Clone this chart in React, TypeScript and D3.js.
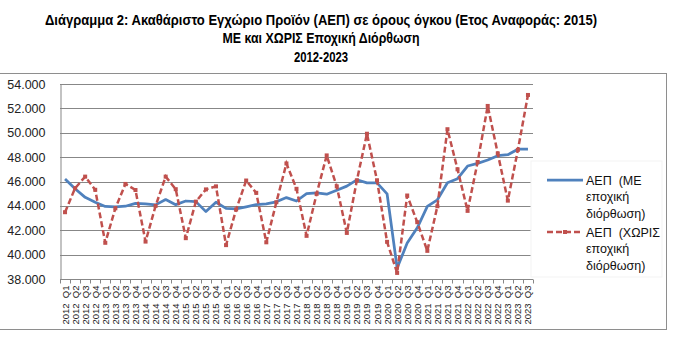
import React, { useEffect, useRef } from "react";
import * as d3 from "d3";

// quarterly volume GDP, 2012 Q1 - 2023 Q3
const years = [2012, 2013, 2014, 2015, 2016, 2017, 2018, 2019, 2020, 2021, 2022, 2023];
const quarters = ["Q1", "Q2", "Q3", "Q4"];
const categories = years
  .flatMap((y) => quarters.map((q) => `${y} ${q}`))
  .slice(0, 47);

const seasonallyAdjusted = [
  46.2, 45.4, 44.7, 44.3,
  43.95, 43.92, 43.97, 44.2,
  44.16, 44.08, 44.52, 44.1,
  44.4, 44.35, 43.53, 44.3,
  43.8, 43.75, 43.92, 44.1,
  44.16, 44.33, 44.68, 44.4,
  45.0, 45.07, 44.96, 45.29,
  45.62, 46.14, 45.89, 45.89,
  44.99, 38.9, 40.95, 42.2,
  43.96, 44.5, 45.9, 46.23,
  47.27, 47.49, 47.76, 48.12,
  48.2, 48.65, 48.65,
];

const notAdjusted = [
  43.48, 45.45, 46.4, 45.32,
  40.97, 43.8, 45.8, 45.3,
  41.07, 44.0, 46.4, 45.37,
  41.35, 44.35, 45.35, 45.6,
  40.78, 43.7, 46.08, 45.07,
  41.01, 44.3, 47.48, 45.4,
  41.54, 44.99, 48.14, 45.6,
  41.78, 46.1, 49.92, 46.1,
  41.05, 38.5, 44.85, 42.66,
  40.31, 43.97, 50.29, 47.0,
  43.59, 47.6, 52.2, 48.3,
  44.43, 48.6, 53.1,
];

const yTicks = [38, 40, 42, 44, 46, 48, 50, 52, 54];

const titleLines = [
  "Διάγραμμα 2: Ακαθάριστο Εγχώριο Προϊόν (ΑΕΠ) σε όρους όγκου (Ετος Αναφοράς: 2015)",
  "ΜΕ και ΧΩΡΙΣ Εποχική Διόρθωση",
  "2012-2023",
];

const legendItems = [
  { lines: ["ΑΕΠ  (ΜΕ", "εποχική", "διόρθωση)"], color: "#4F81BD", dashed: false },
  { lines: ["ΑΕΠ  (ΧΩΡΙΣ", "εποχική", "διόρθωση)"], color: "#C0504D", dashed: true },
];

const App = () => {
  const svgRef = useRef<SVGSVGElement>(null);

  useEffect(() => {
    const width = 689;
    const height = 351;
    const plot = { left: 60, right: 533, top: 84, bottom: 279 };
    const font = "'Liberation Sans', Arial, sans-serif";

    const svg = d3.select(svgRef.current);
    svg.selectAll("*").remove();
    svg.attr("width", width).attr("height", height);

    svg.append("rect").attr("width", width).attr("height", height).attr("fill", "#fff");

    // title
    const titleWidths = [552, 197, 54];
    titleLines.forEach((t, i) => {
      svg
        .append("text")
        .attr("x", 321)
        .attr("y", 24.5 + i * 18.5)
        .attr("text-anchor", "middle")
        .attr("textLength", titleWidths[i])
        .attr("lengthAdjust", "spacingAndGlyphs")
        .style("font-family", font)
        .style("font-size", "14px")
        .style("font-weight", "bold")
        .style("fill", "#000")
        .text(t);
    });

    // chart border
    svg
      .append("rect")
      .attr("x", -1)
      .attr("y", 73.5)
      .attr("width", 667.5)
      .attr("height", 256)
      .attr("fill", "none")
      .attr("stroke", "#8e8e8e")
      .attr("stroke-width", 1);

    const x = d3
      .scaleBand()
      .domain(categories)
      .range([plot.left, plot.right]);

    const y = d3
      .scaleLinear()
      .domain([38, 54])
      .range([plot.bottom, plot.top]);

    // gridlines
    svg
      .append("g")
      .selectAll("line")
      .data(yTicks.slice(1))
      .enter()
      .append("line")
      .attr("x1", plot.left)
      .attr("x2", plot.right)
      .attr("y1", (d) => Math.round(y(d)) + 0.5)
      .attr("y2", (d) => Math.round(y(d)) + 0.5)
      .attr("stroke", "#878787")
      .attr("stroke-width", 1);

    // y axis
    const yAxis = d3
      .axisLeft(y)
      .tickValues(yTicks)
      .tickSize(0)
      .tickPadding(15)
      .tickFormat((d) => `${d}.000`);
    const gy = svg
      .append("g")
      .attr("transform", `translate(${plot.left + 0.5},0)`)
      .call(yAxis);
    gy.select(".domain").attr("stroke", "#878787");
    gy.selectAll("text")
      .style("font-family", font)
      .style("font-size", "12.5px")
      .style("fill", "#222");

    // x axis with ticks between categories
    const gx = svg
      .append("g")
      .attr("transform", `translate(0,${plot.bottom + 0.5})`);
    gx.append("line")
      .attr("x1", plot.left)
      .attr("x2", plot.right)
      .attr("stroke", "#878787");
    gx.selectAll("line.tick")
      .data(categories)
      .enter()
      .append("line")
      .attr("class", "tick")
      .attr("x1", (d) => Math.round(x(d)! + x.bandwidth()) + 0.5)
      .attr("x2", (d) => Math.round(x(d)! + x.bandwidth()) + 0.5)
      .attr("y1", 0)
      .attr("y2", 4)
      .attr("stroke", "#878787");
    gx.append("line")
      .attr("x1", plot.left + 0.5)
      .attr("x2", plot.left + 0.5)
      .attr("y1", 0)
      .attr("y2", 4)
      .attr("stroke", "#878787");
    gx.selectAll("text")
      .data(categories)
      .enter()
      .append("text")
      .attr(
        "transform",
        (d) => `translate(${x(d)! + x.bandwidth() / 2 + 3.5},6) rotate(-90)`
      )
      .attr("text-anchor", "end")
      .style("font-family", font)
      .style("font-size", "9.5px")
      .style("white-space", "pre")
      .style("fill", "#222")
      .text((d) => d.replace(" ", "  "));

    const cx = (i: number) => x(categories[i])! + x.bandwidth() / 2;
    const line = d3
      .line<number>()
      .x((d, i) => cx(i))
      .y((d) => y(d));

    // seasonally adjusted
    svg
      .append("path")
      .datum(seasonallyAdjusted)
      .attr("d", line)
      .attr("fill", "none")
      .attr("stroke", "#4F81BD")
      .attr("stroke-width", 2.75)
      .attr("stroke-linejoin", "round");

    // not adjusted
    svg
      .append("path")
      .datum(notAdjusted)
      .attr("d", line)
      .attr("fill", "none")
      .attr("stroke", "#C0504D")
      .attr("stroke-width", 2.5)
      .attr("stroke-dasharray", "6,3");
    svg
      .append("g")
      .selectAll("rect")
      .data(notAdjusted)
      .enter()
      .append("rect")
      .attr("x", (d, i) => cx(i) - 2)
      .attr("y", (d) => y(d) - 2)
      .attr("width", 4)
      .attr("height", 4)
      .attr("fill", "#C0504D");

    // legend
    svg
      .append("rect")
      .attr("x", 531)
      .attr("y", 161)
      .attr("width", 131)
      .attr("height", 116)
      .attr("fill", "#fff")
      .attr("stroke", "#f3f3f3");

    legendItems.forEach((item, k) => {
      const ly = 180 + k * 52;
      svg
        .append("line")
        .attr("x1", 547)
        .attr("x2", 583)
        .attr("y1", ly)
        .attr("y2", ly)
        .attr("stroke", item.color)
        .attr("stroke-width", item.dashed ? 2.5 : 2.75)
        .attr("stroke-dasharray", item.dashed ? "6,3" : null);
      if (item.dashed) {
        svg
          .append("rect")
          .attr("x", 563)
          .attr("y", ly - 2)
          .attr("width", 4)
          .attr("height", 4)
          .attr("fill", item.color);
      }
      item.lines.forEach((t, j) => {
        svg
          .append("text")
          .attr("x", 586)
          .attr("y", ly + 4.5 + j * 16.5)
          .style("font-family", font)
          .style("font-size", "12.5px")
          .style("white-space", "pre")
          .style("fill", "#111")
          .text(t);
      });
    });
  }, []);

  return (
    <div style={{ position: "absolute", left: 0, top: 0 }}>
      <svg ref={svgRef} style={{ display: "block" }} />
    </div>
  );
};

export default App;
